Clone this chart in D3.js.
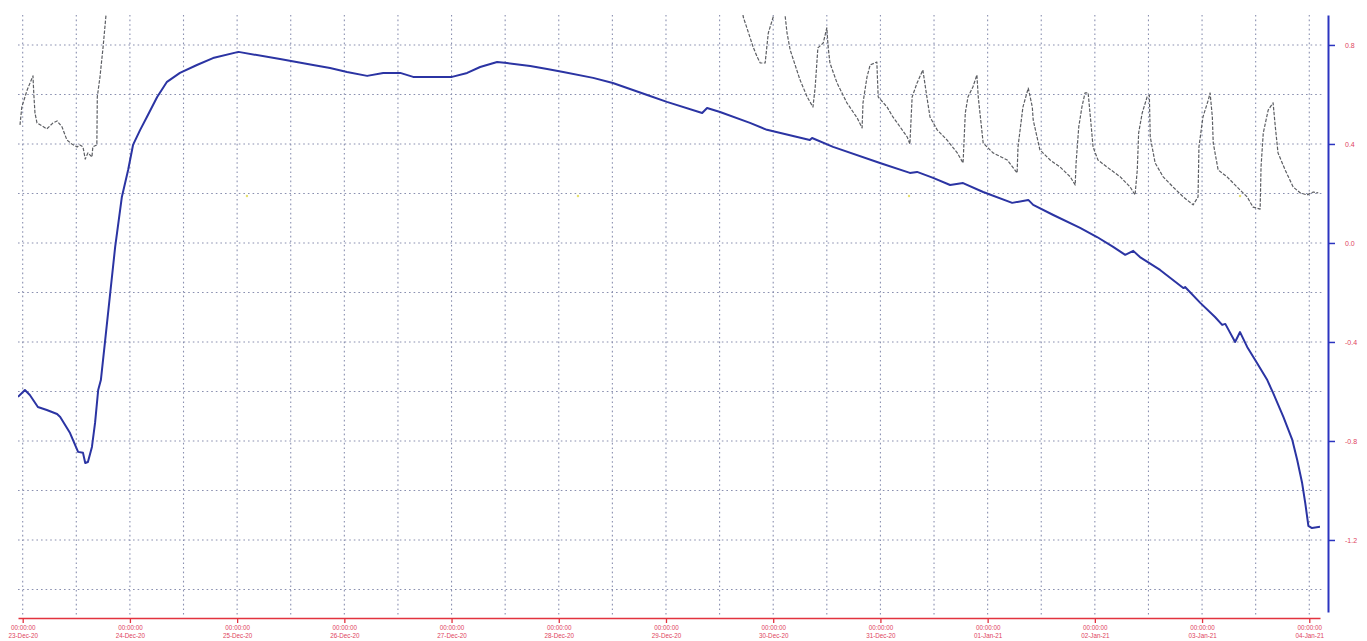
<!DOCTYPE html>
<html>
<head>
<meta charset="utf-8">
<script src="https://cdn.jsdelivr.net/npm/d3@7"></script>
<style>
  html, body { margin: 0; padding: 0; background: #fff; }
  svg { display: block; }
  text { font-family: "Liberation Sans", Arial, sans-serif; }
</style>
</head>
<body>
<svg id="chart" width="1367" height="641"></svg>
<script>
// Time origin for the hour offsets below
const baseTime = new Date(2020, 11, 23, 0, 0, 0);

// Blue trace: hours since 23-Dec-20 00:00 and value
const blueHours = [-1.05, 0.5, 1.6, 3.4, 5.4, 7.7, 8.4, 10.6, 12.4, 13.5, 14.0, 14.6, 15.5, 16.2, 16.9, 17.5,
  18.4, 19.5, 20.7, 22.2, 23.6, 24.7, 26.3, 27.8, 30.1, 32.3, 35.2, 39.0, 42.6, 48.3, 57.6, 65.0, 68.8, 72.6,
  77.1, 80.7, 84.5, 87.4, 91.2, 96.1, 99.5, 102.4, 106.2, 108.4, 113.6, 117.4, 121.0, 127.7, 132.1, 139.8,
  144.2, 152.1, 153.2, 156.1, 162.8, 166.6, 176.2, 176.7, 181.4, 191.9, 198.6, 200.2, 203.8, 207.6, 210.5,
  215.0, 221.5, 225.1, 226.2, 230.7, 236.7, 240.5, 244.1, 246.8, 248.6, 250.1, 254.6, 259.8, 260.2, 263.6,
  266.9, 268.5, 269.2, 271.4, 272.5, 274.1, 276.3, 278.6, 279.9, 282.2, 284.2, 285.3, 286.4, 287.1, 287.8,
  288.6, 290.4];
const blueValues = [-0.622, -0.594, -0.614, -0.663, -0.675, -0.691, -0.703, -0.768, -0.844, -0.848, -0.889,
  -0.885, -0.824, -0.727, -0.594, -0.554, -0.404, -0.218, -0.016, 0.186, 0.295, 0.396, 0.457, 0.509, 0.590,
  0.651, 0.687, 0.719, 0.747, 0.772, 0.743, 0.719, 0.707, 0.691, 0.675, 0.687, 0.687, 0.671, 0.671, 0.671,
  0.687, 0.711, 0.731, 0.727, 0.715, 0.703, 0.691, 0.667, 0.646, 0.598, 0.570, 0.525, 0.545, 0.529, 0.485,
  0.457, 0.416, 0.424, 0.388, 0.323, 0.283, 0.287, 0.263, 0.234, 0.242, 0.206, 0.162, 0.174, 0.154, 0.113,
  0.061, 0.024, -0.016, -0.048, -0.032, -0.057, -0.109, -0.182, -0.178, -0.242, -0.299, -0.331, -0.327,
  -0.400, -0.360, -0.420, -0.485, -0.554, -0.606, -0.703, -0.796, -0.877, -0.970, -1.051, -1.143, -1.152,
  -1.147];

// Grey trace: hours and value (null marks a break in the record)
const greyHours = [-0.6, -0.2, 1.0, 2.3, 2.5, 2.75, 3.2, 4.3, 5.4, 6.8, 7.7, 8.8, 9.9, 11.0, 12.2, 12.8, 13.5,
  14.0, 14.6, 15.5, 15.7, 16.6, 16.7, 17.3, 18.0, 18.65, 19.1, 19.2,
  160.8, 161.3, 162.4, 163.5, 164.4, 165.1, 166.2, 166.9, 168.0, 168.6, 170.4, 170.7, 171.1, 171.8, 174.0,
  175.6, 176.9, 177.4, 178.0, 179.2, 180.0, 180.3, 180.7, 182.3, 184.5, 186.8, 187.9, 188.1, 189.0, 189.7,
  191.2, 191.5, 193.5, 194.8, 196.4, 198.0, 198.6, 199.1, 200.2, 201.5, 202.4, 203.1, 204.7, 206.9, 209.2,
  210.5, 211.0, 211.6, 212.7, 213.6, 213.9, 215.0, 217.2, 220.4, 222.6, 222.8, 223.9, 225.1, 226.0, 226.2,
  227.7, 230.0, 232.2, 234.5, 235.6, 235.8, 236.4, 237.1, 237.8, 238.5, 239.0, 239.6, 240.7, 242.7, 245.7,
  247.9, 249.0, 249.5, 249.8, 250.6, 251.7, 252.2, 252.4, 253.5, 255.3, 257.5, 259.8, 262.0, 263.1, 263.3,
  264.2, 265.4, 265.8, 266.3, 266.5, 267.6, 269.6, 272.5, 274.1, 275.4, 277.0, 277.2, 277.7, 278.8, 279.9,
  280.4, 281.0, 282.6, 284.4, 286.0, 287.5, 288.9, 290.0];
const greyValues = [0.477, 0.549, 0.618, 0.675, 0.598, 0.525, 0.485, 0.473, 0.461, 0.485, 0.493, 0.469, 0.416,
  0.400, 0.388, 0.396, 0.388, 0.339, 0.364, 0.347, 0.388, 0.396, 0.590, 0.671, 0.792, 0.921, 0.982, null,
  0.982, 0.913, 0.853, 0.792, 0.752, 0.727, 0.727, 0.848, 0.913, 0.982, 0.982, 0.913, 0.848, 0.780, 0.659,
  0.590, 0.549, 0.630, 0.788, 0.808, 0.869, 0.792, 0.727, 0.646, 0.566, 0.505, 0.465, 0.566, 0.671, 0.719,
  0.731, 0.590, 0.549, 0.509, 0.469, 0.428, 0.400, 0.590, 0.646, 0.699, 0.590, 0.509, 0.457, 0.416, 0.364,
  0.323, 0.525, 0.590, 0.630, 0.679, 0.590, 0.404, 0.364, 0.335, 0.283, 0.388, 0.549, 0.626, 0.549, 0.497,
  0.376, 0.335, 0.307, 0.267, 0.234, 0.323, 0.469, 0.549, 0.606, 0.606, 0.509, 0.388, 0.335, 0.307, 0.267,
  0.226, 0.194, 0.295, 0.444, 0.525, 0.590, 0.598, 0.428, 0.323, 0.267, 0.226, 0.186, 0.154, 0.186, 0.388,
  0.509, 0.578, 0.606, 0.509, 0.404, 0.295, 0.267, 0.214, 0.186, 0.145, 0.137, 0.307, 0.444, 0.537, 0.566,
  0.469, 0.364, 0.295, 0.226, 0.202, 0.194, 0.206, 0.202];

// Faint event markers
const markerHours = [50.2, 124.3, 198.4, 272.5];
const markerValues = [0.19, 0.19, 0.19, 0.19];

// Axis ticks
const dayTicks = d3.range(0, 13);               // day offsets 23-Dec-20 .. 04-Jan-21
const valueTicks = [0.8, 0.4, 0.0, -0.4, -0.8, -1.2];
const gridValues = d3.range(-1.4, 0.81, 0.2);

const toDate = h => new Date(baseTime.getTime() + h * 3600e3);

const svg = d3.select("#chart");
const plotLeft = 18, plotRight = 1320, plotTop = 15, plotBottom = 612;

const x = d3.scaleTime()
  .domain([toDate(-1.05), toDate(290.4)])
  .range([plotLeft, plotRight]);
const y = d3.scaleLinear()
  .domain([-1.491, 0.921])
  .range([plotBottom, plotTop]);

svg.append("defs").append("clipPath").attr("id", "plotClip")
  .append("rect").attr("x", plotLeft).attr("y", plotTop)
  .attr("width", plotRight - plotLeft).attr("height", plotBottom - plotTop);

// Dotted grid
const gridColor = "#8a90b0";
const grid = svg.append("g").attr("class", "grid");
const halfDays = d3.range(0, 24.5).map(d => toDate(d * 12));
grid.selectAll("line.v").data(halfDays).join("line")
  .attr("class", "v")
  .attr("x1", d => x(d)).attr("x2", d => x(d))
  .attr("y1", plotTop).attr("y2", 616)
  .attr("stroke", gridColor).attr("stroke-width", 1.1)
  .attr("stroke-dasharray", "1.6,3");
grid.selectAll("line.h").data(gridValues).join("line")
  .attr("class", "h")
  .attr("x1", plotLeft).attr("x2", plotRight + 2)
  .attr("y1", d => y(d)).attr("y2", d => y(d))
  .attr("stroke", gridColor).attr("stroke-width", 1.1)
  .attr("stroke-dasharray", "1.6,3");

const plot = svg.append("g").attr("clip-path", "url(#plotClip)");

// Grey trace
const greyData = greyHours.map((h, i) => ({ t: toDate(h), v: greyValues[i] }));
plot.append("path")
  .datum(greyData)
  .attr("fill", "none")
  .attr("stroke", "#5c5e63")
  .attr("stroke-width", 1.2)
  .attr("stroke-dasharray", "3.5,1.5")
  .attr("stroke-linejoin", "round")
  .attr("d", d3.line().defined(d => d.v !== null).x(d => x(d.t)).y(d => y(d.v)));

// Blue trace
const blueData = blueHours.map((h, i) => ({ t: toDate(h), v: blueValues[i] }));
plot.append("path")
  .datum(blueData)
  .attr("fill", "none")
  .attr("stroke", "#2b34a3")
  .attr("stroke-width", 2)
  .attr("stroke-linejoin", "round")
  .attr("d", d3.line().x(d => x(d.t)).y(d => y(d.v)));

// Markers
plot.selectAll("circle.marker").data(markerHours).join("circle")
  .attr("class", "marker")
  .attr("cx", d => x(toDate(d)))
  .attr("cy", (d, i) => y(markerValues[i]))
  .attr("r", 1.2)
  .attr("fill", "#e6e070");

// Time axis (red)
const labelColor = "#e0445e";
const xAxis = svg.append("g")
  .attr("transform", "translate(0,618)")
  .call(d3.axisBottom(x)
    .tickValues(dayTicks.map(d => toDate(d * 24)))
    .tickSize(5)
    .tickSizeOuter(0)
    .tickFormat(""));
xAxis.select(".domain").attr("stroke", "#e2333f").attr("stroke-width", 1.6);
xAxis.selectAll(".tick line").attr("stroke", "#e2333f").attr("stroke-width", 1.3);
const fmtTime = d3.timeFormat("%H:%M:%S");
const fmtDate = d3.timeFormat("%d-%b-%y");
xAxis.selectAll(".tick text").remove();
xAxis.selectAll(".tick").append("text")
  .attr("fill", labelColor)
  .attr("font-size", 6.3)
  .attr("text-anchor", "middle")
  .each(function (d) {
    const t = d3.select(this);
    t.append("tspan").attr("x", 0).attr("y", 12).text(fmtTime(d));
    t.append("tspan").attr("x", 0).attr("y", 19.5).text(fmtDate(d));
  });

// Value axis (blue, right)
const yAxis = svg.append("g")
  .attr("transform", "translate(1328,0)")
  .call(d3.axisRight(y)
    .tickValues(valueTicks)
    .tickSize(7)
    .tickSizeOuter(0)
    .tickPadding(10)
    .tickFormat(d => d.toFixed(1)));
yAxis.select(".domain").attr("stroke", "#2b34c0").attr("stroke-width", 2);
yAxis.selectAll(".tick line").attr("stroke", "#2b34c0").attr("stroke-width", 1.5);
yAxis.selectAll(".tick text")
  .attr("fill", labelColor)
  .attr("font-size", 7)
  .attr("font-family", "Liberation Sans, Arial, sans-serif");
</script>
</body>
</html>
